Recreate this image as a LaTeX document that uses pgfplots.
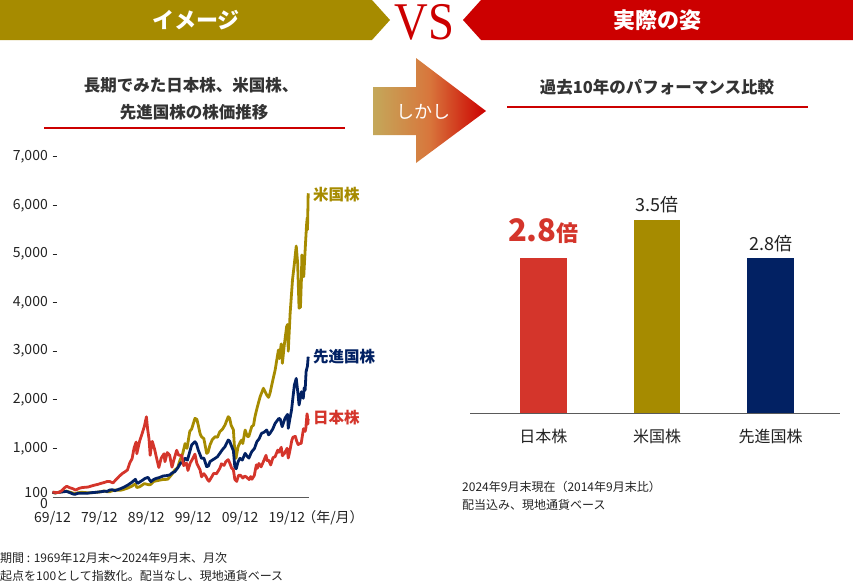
\documentclass[border=0pt]{standalone}
\usepackage{pgfplots}
\pgfplotsset{compat=1.18}
\usepackage{fontspec}
\setmainfont{Noto Sans CJK JP}
\newfontfamily\vsfont{Liberation Serif}
\definecolor{olive}{RGB}{166,139,0}
\definecolor{bannerred}{RGB}{204,0,0}
\definecolor{jred}{RGB}{212,53,43}
\definecolor{navy}{RGB}{2,33,99}
\definecolor{textdark}{RGB}{34,34,34}
\definecolor{titlegray}{RGB}{51,51,51}
\definecolor{axisgray}{RGB}{90,90,90}
\definecolor{arrowleft}{RGB}{196,168,90}
\definecolor{arrowmid}{RGB}{216,118,60}
\begin{document}
\begin{tikzpicture}
\begin{scope}[x=1pt,y=-1pt]
\path[use as bounding box] (0,0) rectangle (853,584);
% banners
\fill[olive] (0,0) -- (372,0) -- (390,20) -- (372,40) -- (0,40) -- cycle;
\fill[bannerred] (481,0) -- (853,0) -- (853,40) -- (481,40) -- (463,20) -- cycle;
\node[text=white, font=\fontsize{22}{22}\selectfont\bfseries] at (196,20) {イメージ};
\node[text=white, font=\fontsize{22}{22}\selectfont\bfseries] at (657,20) {実際の姿};
\node[text=bannerred, font=\vsfont\fontsize{53}{53}\selectfont, xscale=0.88, inner sep=0pt] at (424.5,22) {VS};
% arrow
\shade[left color=arrowleft, right color=bannerred, middle color=arrowmid]
  (373,87) -- (416,87) -- (416,58) -- (486,111) -- (416,163) -- (416,135) -- (373,135) -- cycle;
\node[text=white, font=\fontsize{18}{18}\selectfont] at (423,112) {しかし};
% titles
\node[text=titlegray, font=\fontsize{16.5}{16.5}\selectfont\bfseries] at (191,85) {長期でみた日本株、米国株、};
\node[text=titlegray, font=\fontsize{16.5}{16.5}\selectfont\bfseries] at (194,112) {先進国株の株価推移};
\draw[bannerred, line width=2pt] (44,128.3) -- (345,128.3);
\node[text=titlegray, font=\fontsize{16.5}{16.5}\selectfont\bfseries] at (657,87) {過去10年のパフォーマンス比較};
\draw[bannerred, line width=2pt] (507,106.7) -- (808,106.7);
% line labels
\node[anchor=west, text=olive, font=\fontsize{15.5}{15.5}\selectfont\bfseries, inner sep=0pt] at (313,195) {米国株};
\node[anchor=west, text=navy, font=\fontsize{15.5}{15.5}\selectfont\bfseries, inner sep=0pt] at (313,357) {先進国株};
\node[anchor=west, text=jred, font=\fontsize{15.5}{15.5}\selectfont\bfseries, inner sep=0pt] at (313,418) {日本株};
\node[text=textdark, font=\fontsize{14}{14}\selectfont, inner sep=0pt] at (333,518) {（年/月）};
% notes
\node[anchor=west, text=textdark, font=\fontsize{12}{12}\selectfont, inner sep=0pt] at (0,558) {期間 : 1969年12月末～2024年9月末、月次};
\node[anchor=west, text=textdark, font=\fontsize{12}{12}\selectfont, inner sep=0pt] at (0,576) {起点を100として指数化。配当なし、現地通貨ベース};
\node[anchor=west, text=textdark, font=\fontsize{12}{12}\selectfont, inner sep=0pt] at (462,487) {2024年9月末現在（2014年9月末比）};
\node[anchor=west, text=textdark, font=\fontsize{12}{12}\selectfont, inner sep=0pt] at (462,505) {配当込み、現地通貨ベース};
\end{scope}

% ---------- line chart ----------
\begin{axis}[
  at={(52.5pt,-497pt)}, anchor=south west,
  scale only axis, width=256.4pt, height=340.2pt,
  xmin=1969.92, xmax=2024.6, ymin=0, ymax=7000,
  clip=false,
  axis x line*=bottom, axis y line*=left,
  x axis line style={draw=axisgray, line width=0.8pt, -},
  y axis line style={draw=none, -},
  xtick={1969.92,1979.92,1989.92,1999.92,2009.92,2019.92},
  xticklabels={69/12,79/12,89/12,99/12,09/12,19/12},
  xtick style={draw=none},
  ytick={1000,2000,3000,4000,5000,6000,7000},
  tick align=inside, major tick length=5pt,
  ytick style={draw=textdark, line width=0.7pt},
  extra y ticks={100}, extra y tick style={major tick length=0pt, ytick style={draw=none}},
  /pgf/number format/1000 sep={,},
  /pgf/number format/assume math mode=true,
  ticklabel style={font=\fontsize{14}{14}\selectfont, text=textdark},
  yticklabel style={inner sep=0pt, anchor=east, xshift=-4.5pt},
  xticklabel style={inner sep=0pt, anchor=north, yshift=-14pt},
]
\node[anchor=east, inner sep=0pt, xshift=-4.5pt, yshift=-6.5pt, text=textdark, font=\fontsize{14}{14}\selectfont] at (axis cs:1969.92,0) {0};
% US
\addplot[olive, line width=2.8pt, line join=round] coordinates {
(1969.92,100)(1970.4,80)(1970.9,92)(1971.5,102)(1972.0,108)(1972.9,122)(1973.5,102)(1974.0,90)(1974.7,66)(1975.3,85)(1976.1,98)(1976.9,92)(1977.5,86)(1978.2,86)(1979.0,95)(1979.6,100)(1980.3,110)(1980.9,124)(1981.6,108)(1982.1,108)(1982.7,130)(1983.2,145)(1984.0,138)(1984.6,142)(1985.3,162)(1986.0,185)(1986.8,220)(1987.6,270)(1987.9,195)(1988.5,210)(1989.5,275)(1990.6,250)(1990.9,262)(1991.5,320)(1992.4,340)(1993.5,360)(1994.5,365)(1995.5,480)(1996.0,556)(1996.6,600)(1997.0,727)(1997.7,900)(1998.2,1100)(1998.6,1000)(1999.2,1350)(1999.6,1400)(2000.3,1619)(2000.7,1600)(2001.0,1481)(2001.4,1300)(2001.7,1241)(2002.2,1200)(2002.8,898)(2003.1,920)(2003.5,1070)(2004.0,1180)(2004.6,1241)(2005.1,1230)(2005.6,1344)(2006.2,1400)(2006.7,1481)(2007.4,1653)(2007.7,1620)(2008.0,1481)(2008.5,1380)(2008.7,1070)(2009.05,796)(2009.5,1035)(2010.0,1140)(2010.3,1173)(2010.5,1100)(2011.0,1379)(2011.5,1241)(2011.8,1250)(2012.4,1447)(2012.8,1480)(2013.1,1653)(2013.6,1850)(2014.2,2064)(2014.9,2237)(2015.6,2099)(2016.0,2050)(2016.3,2133)(2016.9,2400)(2017.4,2613)(2018.1,3025)(2018.3,2850)(2018.7,3150)(2018.95,2751)(2019.35,3128)(2019.85,3504)(2020.05,3550)(2020.2,3000)(2020.6,3779)(2021.1,4465)(2021.5,4800)(2021.9,5165)(2022.2,4809)(2022.5,3882)(2022.6,4300)(2022.8,3900)(2023.0,4465)(2023.1,4980)(2023.4,4650)(2023.5,4533)(2023.8,5082)(2024.1,5600)(2024.25,5750)(2024.3,5500)(2024.45,6250)
};
% Developed
\addplot[navy, line width=2.8pt, line join=round] coordinates {
(1969.92,100)(1970.5,85)(1971.2,95)(1972.0,105)(1972.9,115)(1973.5,95)(1974.3,62)(1974.7,55)(1975.3,75)(1976.1,78)(1976.8,76)(1977.5,80)(1978.2,89)(1979.0,95)(1980.3,109)(1981.0,120)(1981.6,115)(1982.1,144)(1982.7,150)(1983.2,130)(1983.8,150)(1984.6,178)(1985.3,210)(1986.0,247)(1986.8,300)(1987.6,364)(1987.9,300)(1988.1,281)(1988.7,320)(1989.2,350)(1989.6,380)(1990.3,405)(1990.7,340)(1990.9,315)(1991.5,360)(1992.05,384)(1992.7,400)(1993.5,432)(1994.2,440)(1994.9,453)(1995.5,500)(1996.0,521)(1996.7,610)(1997.25,706)(1997.7,700)(1998.2,796)(1998.7,760)(1998.9,829)(1999.6,1070)(2000.3,1138)(2000.6,1100)(2001.0,967)(2001.7,796)(2002.2,800)(2002.8,624)(2003.2,640)(2003.5,727)(2004.0,760)(2004.6,796)(2005.1,830)(2005.6,898)(2006.2,980)(2006.7,1035)(2007.4,1173)(2007.7,1150)(2008.0,1070)(2008.5,950)(2008.8,624)(2009.1,580)(2009.5,727)(2009.9,796)(2010.4,760)(2011.0,898)(2011.5,829)(2011.8,800)(2012.4,932)(2013.0,1000)(2013.5,1138)(2014.0,1200)(2014.5,1311)(2015.0,1330)(2015.6,1379)(2016.0,1280)(2016.3,1311)(2016.9,1400)(2017.4,1516)(2018.2,1619)(2018.5,1600)(2018.9,1447)(2019.5,1619)(2019.9,1680)(2020.05,1700)(2020.2,1413)(2020.5,1584)(2020.9,1790)(2021.2,2050)(2021.5,2300)(2021.9,2440)(2022.3,2100)(2022.5,1893)(2022.8,2050)(2023.0,2167)(2023.4,2031)(2023.6,2250)(2023.8,2200)(2024.0,2578)(2024.3,2700)(2024.45,2887)
};
% Japan
\addplot[jred, line width=2.8pt, line join=round] coordinates {
(1969.92,100)(1970.5,95)(1971.2,92)(1971.9,130)(1972.5,190)(1972.95,221)(1973.5,195)(1974.3,170)(1974.8,142)(1975.5,175)(1976.1,192)(1976.8,200)(1977.5,205)(1978.2,226)(1978.9,245)(1979.6,260)(1980.3,282)(1981.0,300)(1981.6,320)(1982.1,320)(1982.8,290)(1983.5,360)(1984.2,432)(1984.9,490)(1985.4,520)(1985.9,556)(1986.4,700)(1986.9,793)(1987.3,1000)(1987.75,1130)(1987.9,890)(1988.5,1150)(1988.95,1279)(1989.5,1450)(1989.95,1650)(1990.2,1400)(1990.5,1200)(1990.75,858)(1990.95,1000)(1991.2,1145)(1991.7,980)(1992.05,829)(1992.6,607)(1993.1,800)(1993.7,890)(1993.9,727)(1994.4,914)(1994.9,860)(1995.4,614)(1995.8,760)(1996.4,961)(1996.8,864)(1997.5,850)(1997.9,647)(1998.5,700)(1998.8,546)(1999.3,700)(1999.9,803)(2000.3,883)(2000.7,693)(2001.4,556)(2001.7,415)(2002.2,480)(2002.6,430)(2002.95,364)(2003.3,323)(2003.9,418)(2004.3,487)(2004.9,480)(2005.6,590)(2005.95,683)(2006.5,650)(2006.9,730)(2007.4,769)(2007.8,680)(2008.1,600)(2008.5,560)(2008.8,364)(2009.2,321)(2009.6,445)(2010.0,450)(2010.5,390)(2010.9,430)(2011.3,410)(2011.85,358)(2012.2,420)(2012.45,366)(2012.95,441)(2013.4,663)(2013.6,590)(2013.95,691)(2014.4,620)(2014.95,740)(2015.45,858)(2015.7,750)(2016.0,760)(2016.45,660)(2016.95,811)(2017.4,830)(2017.95,965)(2018.2,920)(2018.7,1023)(2018.95,849)(2019.4,900)(2019.95,1003)(2020.2,802)(2020.5,930)(2020.95,1164)(2021.2,1230)(2021.7,1249)(2022.0,1150)(2022.3,1080)(2022.7,1100)(2022.95,1100)(2023.45,1407)(2023.8,1350)(2023.95,1419)(2024.2,1712)(2024.3,1658)(2024.38,1500)(2024.45,1608)
};
\end{axis}

% ---------- bar chart ----------
\begin{axis}[
  at={(470pt,-413.3pt)}, anchor=south west,
  scale only axis, width=370pt, height=221.2pt,
  xmin=-0.645, xmax=2.61, ymin=0, ymax=4,
  clip=false,
  axis x line*=bottom, axis y line=none,
  x axis line style={draw=axisgray, line width=0.8pt, -},
  xtick={0,1,2}, xticklabels={日本株,米国株,先進国株},
  xtick style={draw=none},
  xticklabel style={font=\fontsize{16}{16}\selectfont, text=textdark, inner sep=0pt, anchor=north, yshift=-11.5pt},
  ybar, bar width=46.7pt, bar shift=0pt,
]
\addplot[fill=jred, draw=none] coordinates {(0,2.8)};
\addplot[fill=olive, draw=none] coordinates {(1,3.5)};
\addplot[fill=navy, draw=none] coordinates {(2,2.8)};
\node[anchor=base, yshift=16.6pt, inner sep=0pt, text=jred, font=\bfseries] at (axis cs:0,2.8) {\fontsize{31}{31}\selectfont 2.8\fontsize{22}{22}\selectfont 倍};
\node[anchor=base, yshift=8.3pt, inner sep=0pt, text=textdark, font=\fontsize{18}{18}\selectfont] at (axis cs:1,3.5) {3.5倍};
\node[anchor=base, yshift=8.3pt, inner sep=0pt, text=textdark, font=\fontsize{18}{18}\selectfont] at (axis cs:2,2.8) {2.8倍};
\end{axis}
\end{tikzpicture}
\end{document}
